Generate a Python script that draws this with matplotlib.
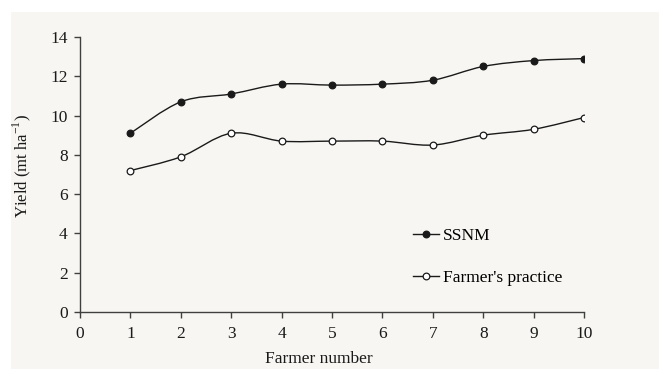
import numpy as np
import matplotlib
matplotlib.use("Agg")
import matplotlib.pyplot as plt
from matplotlib.path import Path
from matplotlib.patches import PathPatch, Rectangle
from matplotlib.lines import Line2D

farmers = [1, 2, 3, 4, 5, 6, 7, 8, 9, 10]
ssnm = [9.1, 10.7, 11.1, 11.6, 11.55, 11.6, 11.8, 12.5, 12.8, 12.9]
farmer_practice = [7.2, 7.9, 9.1, 8.7, 8.7, 8.7, 8.5, 9.0, 9.3, 9.9]

BG = "#f7f6f2"
INK = "#1a1a1a"

plt.rcParams['font.family'] = ['Liberation Serif', 'DejaVu Serif']
plt.rcParams['mathtext.fontset'] = 'custom'
plt.rcParams['mathtext.rm'] = 'Liberation Serif'


def smooth_path(x, y, t=1/6):
    # Excel-like smoothed line: cubic bezier through the points
    x = np.asarray(x, float); y = np.asarray(y, float)
    verts = [(x[0], y[0])]
    codes = [Path.MOVETO]
    n = len(x)
    for i in range(n - 1):
        i0 = max(i - 1, 0); i3 = min(i + 2, n - 1)
        c1 = (x[i] + (x[i + 1] - x[i0]) * t, y[i] + (y[i + 1] - y[i0]) * t)
        c2 = (x[i + 1] - (x[i3] - x[i]) * t, y[i + 1] - (y[i3] - y[i]) * t)
        verts += [c1, c2, (x[i + 1], y[i + 1])]
        codes += [Path.CURVE4] * 3
    return Path(verts, codes)


fig = plt.figure(figsize=(6.59, 3.69), dpi=100)
fig.patch.set_facecolor("white")
fig.patches.append(Rectangle((11 / 659, 0), 1, 1 - 12 / 369, transform=fig.transFigure,
                             facecolor=BG, edgecolor="none", zorder=-10))

ax = fig.add_axes([80 / 659, 1 - 312 / 369, 504 / 659, 275 / 369])
ax.set_facecolor(BG)

for ys, fc in [(ssnm, INK), (farmer_practice, "white")]:
    ax.add_patch(PathPatch(smooth_path(farmers, ys), facecolor="none", edgecolor=INK, lw=1.0, zorder=2))
    ax.plot(farmers, ys, ls="none", marker="o", ms=4.8, mfc=fc, mec=INK, mew=0.9, zorder=3)

ax.set_xlim(0, 10)
ax.set_ylim(0, 14)
ax.set_xticks(range(0, 11))
ax.set_yticks(range(0, 15, 2))
for s in ["top", "right"]:
    ax.spines[s].set_visible(False)
for s in ["left", "bottom"]:
    ax.spines[s].set_color("#404040")
    ax.spines[s].set_linewidth(1.0)
ax.tick_params(direction="out", length=4, width=1.0, color="#404040", labelsize=12.5,
               labelcolor=INK)
ax.tick_params(axis="x", pad=6)
ax.tick_params(axis="y", pad=5)

ax.set_xlabel("Farmer number", fontsize=12.5, color=INK)
ax.xaxis.set_label_coords(239 / 504, -39 / 275)
ax.set_ylabel("Yield (mt ha$^{\\mathregular{-1}}$)", fontsize=12, color=INK)
ax.yaxis.set_label_coords(-47 / 504, 146 / 275)

handles = [Line2D([], [], color=INK, lw=1.0, marker="o", ms=4.8, mfc=INK, mec=INK, mew=0.9),
           Line2D([], [], color=INK, lw=1.0, marker="o", ms=4.8, mfc="white", mec=INK, mew=0.9)]
ax.legend(handles, ["SSNM", "Farmer's practice"], loc="upper left",
          bbox_to_anchor=(413 / 659, 1 - 228 / 369), bbox_transform=fig.transFigure,
          frameon=False, fontsize=12.5, handlelength=1.5, handletextpad=0.2,
          labelspacing=1.5, borderaxespad=0, borderpad=0)

fig.savefig("out.png", dpi=100, facecolor=fig.get_facecolor())
